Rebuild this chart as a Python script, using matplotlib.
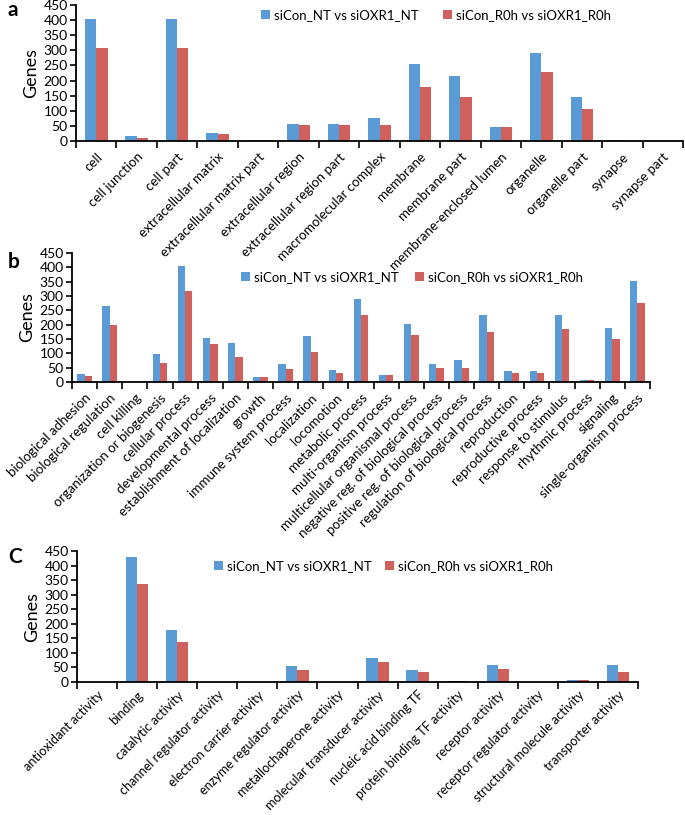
import numpy as np
import matplotlib.pyplot as plt

plt.rcParams['font.family'] = ['Lato', 'DejaVu Sans']

# -----------------------------
# Data
# -----------------------------
series_names = ["siCon_NT vs siOXR1_NT", "siCon_R0h vs siOXR1_R0h"]
blue = "#5B9BD5"
red = "#D0605C"

cc_terms = ["cell", "cell junction", "cell part", "extracellular matrix",
            "extracellular matrix part", "extracellular region",
            "extracellular region part", "macromolecular complex", "membrane",
            "membrane part", "membrane-enclosed lumen", "organelle",
            "organelle part", "synapse", "synapse part"]
cc_nt = [403, 15, 403, 25, 3, 57, 57, 75, 254, 215, 47, 291, 147, 3, 1]
cc_r0h = [308, 10, 308, 23, 3, 53, 53, 53, 180, 147, 45, 229, 107, 0, 1]

bp_terms = ["biological adhesion", "biological regulation", "cell killing",
            "organization or biogenesis", "cellular process",
            "developmental process", "establishment of localization", "growth",
            "immune system process", "localization", "locomotion",
            "metabolic process", "multi-organism process",
            "multicellular organismal process",
            "negative reg. of biological process",
            "positive reg. of biological process",
            "regulation of biological process", "reproduction",
            "reproductive process", "response to stimulus", "rhythmic process",
            "signaling", "single-organism process"]
bp_nt = [28, 264, 0, 96, 406, 153, 135, 17, 64, 159, 42, 291, 26, 203, 64, 77,
         233, 37, 37, 235, 7, 190, 353]
bp_r0h = [20, 200, 0, 65, 316, 132, 88, 17, 45, 106, 33, 233, 23, 164, 48, 49,
          174, 31, 31, 184, 7, 149, 276]

mf_terms = ["antioxidant activity", "binding", "catalytic activity",
            "channel regulator activity", "electron carrier activity",
            "enzyme regulator activity", "metallochaperone activity",
            "molecular transducer activity", "nucleic acid binding TF",
            "protein binding TF activity", "receptor activity",
            "receptor regulator activity", "structural molecule activity",
            "transporter activity"]
mf_nt = [1, 428, 177, 0, 0, 56, 0, 84, 40, 5, 57, 0, 8, 59]
mf_r0h = [1, 338, 136, 0, 0, 40, 0, 68, 34, 5, 44, 0, 6, 35]

W, H = 685, 815
fig = plt.figure(figsize=(W / 100, H / 100), dpi=100)


def px_axes(left, right, top, bottom):
    """Axes from pixel edges (top-down y)."""
    ax = fig.add_axes([left / W, 1 - bottom / H, (right - left) / W,
                       (bottom - top) / H])
    ax.set_facecolor("none")
    return ax


def bar_panel(ax, terms, v1, v2, bw, lab_size=9.6, lab_pad=7):
    x = np.arange(len(terms))
    ax.bar(x - bw / 2, v1, bw, color=blue, label=series_names[0])
    ax.bar(x + bw / 2, v2, bw, color=red, label=series_names[1])
    ax.set_xlim(-0.5, len(terms) - 0.5)
    ax.set_ylim(0, 450)
    ax.set_yticks(np.arange(0, 451, 50))
    ax.set_xticks(np.arange(len(terms) + 1) - 0.5)
    ax.set_xticklabels([])
    ax.set_xticks(x, minor=True)
    ax.set_xticklabels(terms, minor=True, rotation=45, ha="right",
                       rotation_mode="anchor", fontsize=lab_size)
    ax.tick_params(axis="x", which="minor", length=0, pad=lab_pad)
    ax.tick_params(axis="x", which="major", length=5, width=1.2,
                   direction="out")
    ax.tick_params(axis="y", length=4, width=1.2, labelsize=10, pad=2)
    for s in ["top", "right"]:
        ax.spines[s].set_visible(False)
    for s in ["left", "bottom"]:
        ax.spines[s].set_linewidth(1.3)
    ax.set_ylabel("Genes", fontsize=13, labelpad=3)
    return ax


def legend_at(ax, x_px, y_px, spacing):
    ax.legend(loc="center left", bbox_to_anchor=(x_px / W, 1 - y_px / H),
              bbox_transform=fig.transFigure, ncol=2, frameon=False,
              fontsize=9.5, handlelength=0.7, handleheight=0.7,
              handletextpad=0.3, columnspacing=spacing, borderpad=0,
              borderaxespad=0)


# Panel a
ax_a = px_axes(76, 683, 5, 141)
bar_panel(ax_a, cc_terms, cc_nt, cc_r0h, 0.28)
legend_at(ax_a, 261, 15, 1.8)

# Panel b
ax_b = px_axes(72, 650, 253, 382)
bar_panel(ax_b, bp_terms, bp_nt, bp_r0h, 0.29)
legend_at(ax_b, 241, 277, 1.2)

# Panel c
ax_c = px_axes(77, 638, 551, 682)
bar_panel(ax_c, mf_terms, mf_nt, mf_r0h, 0.28, lab_size=9.2, lab_pad=5)
legend_at(ax_c, 214, 566, 1.0)

for lab, y in [("a", 10), ("b", 262), ("C", 557)]:
    fig.text(8 / W, 1 - y / H, lab, fontsize=15, fontweight="bold",
             va="center", ha="left")

fig.savefig("out.png", dpi=100)
